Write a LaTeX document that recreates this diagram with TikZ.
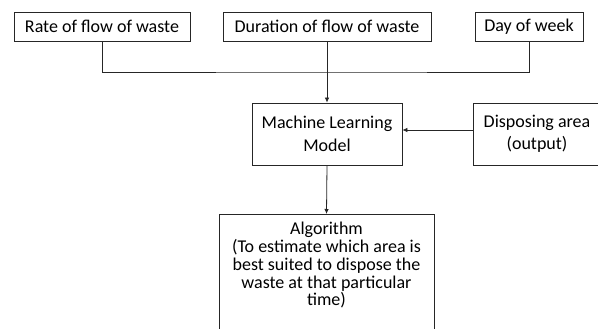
\documentclass[tikz,border=0pt]{standalone}
\usepackage{fontspec}
\setmainfont{Carlito}
\usetikzlibrary{arrows.meta}
\begin{document}
\begin{tikzpicture}[x=1pt,y=-1pt,
  box/.style={draw=black!85,line width=0.8pt,rectangle,inner sep=0pt,align=center,
    font=\fontsize{18}{22.5}\selectfont},
  arr/.style={draw=black!85,line width=0.8pt,-{Latex[length=5pt,width=4.5pt]}},
  ln/.style={draw=black!85,line width=0.8pt}]
\useasboundingbox (0,0) rectangle (598,329);
\clip (0,0) rectangle (598,329);
\fill[white] (0,0) rectangle (598,329);
\node[box,minimum width=176,minimum height=29] (b1) at (102,26.5) {Rate of flow of waste};
\node[box,minimum width=208,minimum height=29] (b2) at (327,26.5) {Duration of flow of waste};
\node[box,minimum width=108,minimum height=29] (b3) at (529,26.5) {Day of week};
\node[box,minimum width=150,minimum height=62] (ml) at (327,134) {Machine Learning\\Model};
\node[box,minimum width=128,minimum height=62] (disp) at (537,134) {Disposing area\\(output)};
\node[box,minimum width=215,minimum height=140,anchor=north] (alg) at (326.5,214) {};
\node[align=center,inner sep=0pt,anchor=north,font=\fontsize{18}{17.8}\selectfont] (algtxt) at ([yshift=-8]alg.north)
  {Algorithm\\(To estimate which area is\\best suited to dispose the\\waste at that particular\\time)};
\coordinate (jn) at (b2.south |- 0,72);
\draw[ln] (b1.south) |- (jn) -| (b3.south);
\draw[arr] (b2.south) -- (ml.north);
\draw[arr] ([yshift=4]disp.west) -- ([yshift=4]ml.east);
\draw[arr] (ml.south) -- (alg.north);
\end{tikzpicture}
\end{document}
